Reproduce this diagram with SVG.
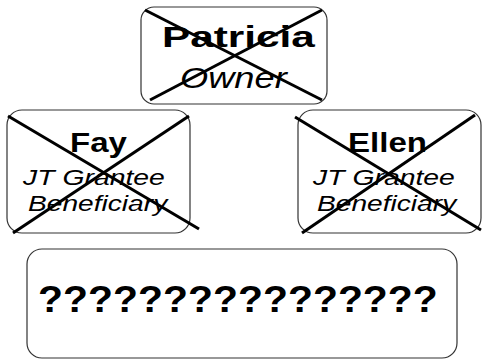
<svg xmlns="http://www.w3.org/2000/svg" width="482" height="360" viewBox="0 0 482 360">
  <style>
    .box { fill: #ffffff; stroke: #333333; stroke-width: 1.2; }
    .cross { stroke: #000000; stroke-width: 3; stroke-linecap: butt; }
    text { font-family: "Liberation Sans", Arial, sans-serif; fill: #000000; text-anchor: start; }
    .name { font-weight: bold; }
    .role { font-style: italic; }
  </style>
  <rect width="482" height="360" fill="#ffffff"/>

  <!-- labels are set in a horizontally widened face -->
  <g id="patricia">
    <rect class="box" x="141" y="7" width="186" height="97" rx="13"/>
    <text class="name" transform="translate(162,47) scale(1.46,1)" font-size="29">Patricia</text>
    <text class="role" transform="translate(180,88) scale(1.25,1)" font-size="29">Owner</text>
  </g>

  <g id="fay">
    <rect class="box" x="7" y="110" width="183" height="123" rx="15"/>
    <text class="name" transform="translate(70,152) scale(1.18,1)" font-size="28">Fay</text>
    <text class="role" transform="translate(23,185) scale(1.29,1)" font-size="22">JT Grantee</text>
    <text class="role" transform="translate(28,211) scale(1.28,1)" font-size="22">Beneficiary</text>
  </g>

  <g id="ellen">
    <rect class="box" x="298" y="110" width="183" height="123" rx="15"/>
    <text class="name" transform="translate(348,152) scale(1.18,1)" font-size="28">Ellen</text>
    <text class="role" transform="translate(313,185) scale(1.29,1)" font-size="22">JT Grantee</text>
    <text class="role" transform="translate(317,211) scale(1.28,1)" font-size="22">Beneficiary</text>
  </g>

  <g id="unknown">
    <rect class="box" x="27" y="249" width="430" height="109" rx="15"/>
    <text class="name" transform="translate(38,312) scale(1.106,1)" font-size="37">????????????????</text>
  </g>

  <!-- strike-through marks over the crossed-out nodes -->
  <g id="connectors">
    <line class="cross" x1="145" y1="10" x2="322" y2="100"/>
    <line class="cross" x1="150" y1="100" x2="322" y2="10"/>
    <line class="cross" x1="8" y1="116" x2="199" y2="229"/>
    <line class="cross" x1="13" y1="233" x2="189" y2="116"/>
    <line class="cross" x1="295" y1="117" x2="481" y2="230"/>
    <line class="cross" x1="302" y1="233" x2="475" y2="115"/>
  </g>
</svg>
